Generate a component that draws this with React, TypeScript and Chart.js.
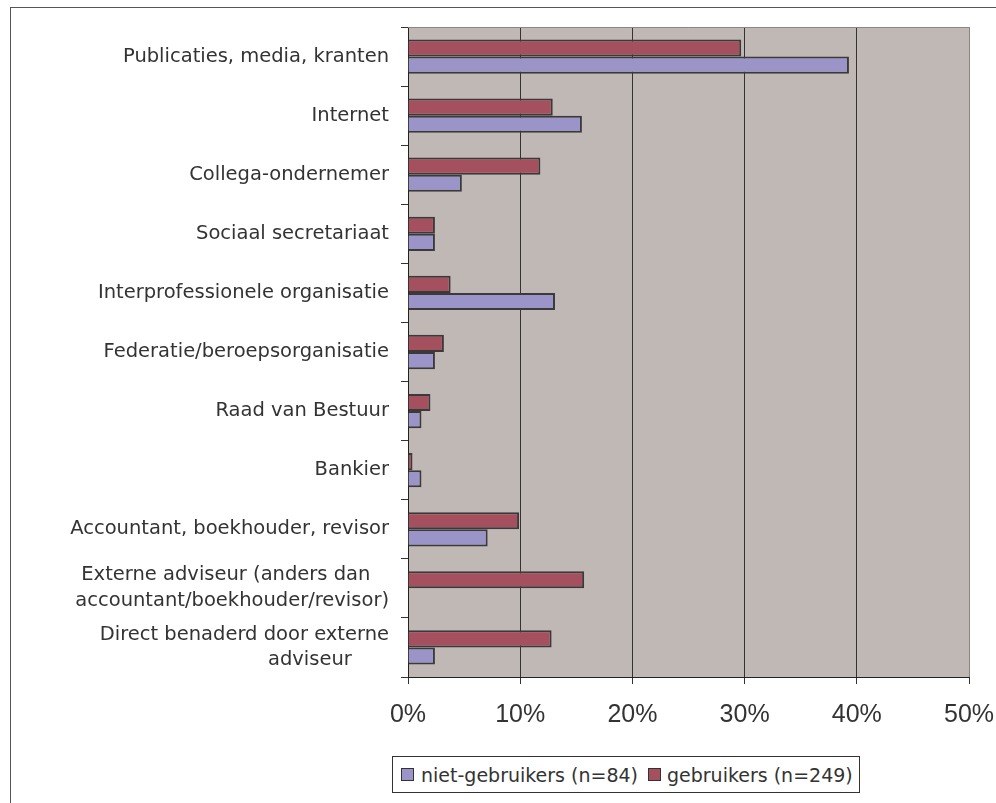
import React, { useEffect, useRef } from "react";
import { Chart, registerables } from "chart.js";

Chart.register(...registerables);

const categories: (string | string[])[] = [
  "Publicaties, media, kranten",
  "Internet",
  "Collega-ondernemer",
  "Sociaal secretariaat",
  "Interprofessionele organisatie",
  "Federatie/beroepsorganisatie",
  "Raad van Bestuur",
  "Bankier",
  "Accountant, boekhouder, revisor",
  ["Externe adviseur (anders dan   ", "accountant/boekhouder/revisor)"],
  ["Direct benaderd door externe", "adviseur      "],
];

const gebruikers = [29.7, 12.9, 11.8, 2.4, 3.8, 3.2, 2.0, 0.4, 9.9, 15.7, 12.8];
const nietGebruikers = [39.3, 15.5, 4.8, 2.4, 13.1, 2.4, 1.2, 1.2, 7.1, 0, 2.4];

const xTicks = [0, 10, 20, 30, 40, 50];

const RED = "#a5505f";
const BLUE = "#9b94c8";
const PLOT_BG = "#c0b8b5";
const LABEL_FONT = "'DejaVu Sans', sans-serif";

const zeroPad = (s: any) => {
  s.paddingLeft = 0;
  s.paddingRight = 0;
  s.paddingTop = 0;
  s.paddingBottom = 0;
};

export default function App() {
  const ref = useRef<HTMLCanvasElement | null>(null);

  useEffect(() => {
    if (!ref.current) return;
    const bgPlugin = {
      id: "plotBg",
      beforeDraw(chart: any) {
        const { ctx, chartArea } = chart;
        ctx.save();
        ctx.fillStyle = PLOT_BG;
        ctx.fillRect(chartArea.left, chartArea.top, chartArea.right - chartArea.left, chartArea.bottom - chartArea.top);
        ctx.restore();
      },
      afterDraw(chart: any) {
        const { ctx, chartArea } = chart;
        ctx.save();
        ctx.strokeStyle = "#8c8482";
        ctx.lineWidth = 1;
        ctx.beginPath();
        ctx.moveTo(chartArea.left, Math.round(chartArea.top) + 0.5);
        ctx.lineTo(Math.round(chartArea.right) + 0.5, Math.round(chartArea.top) + 0.5);
        ctx.lineTo(Math.round(chartArea.right) + 0.5, chartArea.bottom);
        ctx.stroke();
        ctx.restore();
      },
    };

    const chart = new Chart(ref.current, {
      type: "bar",
      data: {
        labels: categories,
        datasets: [
          {
            label: "gebruikers (n=249)",
            data: gebruikers,
            backgroundColor: RED,
            borderColor: "#3a3a3a",
            borderWidth: 2,
            categoryPercentage: 0.58,
            barPercentage: 1,
          },
          {
            label: "niet-gebruikers (n=84)",
            data: nietGebruikers,
            backgroundColor: BLUE,
            borderColor: "#3a3a3a",
            borderWidth: 2,
            categoryPercentage: 0.58,
            barPercentage: 1,
          },
        ],
      },
      options: {
        indexAxis: "y",
        responsive: false,
        animation: false,
        devicePixelRatio: 1,
        layout: { padding: { top: 27, right: 27, left: 0, bottom: 0 } },
        plugins: {
          legend: { display: false },
          tooltip: { enabled: false },
        },
        scales: {
          x: {
            type: "linear",
            min: 0,
            max: 50,
            afterFit: (s: any) => {
              s.height = 126;
              zeroPad(s);
            },
            afterBuildTicks: (s: any) => {
              s.ticks = xTicks.map((v) => ({ value: v }));
            },
            ticks: {
              stepSize: 10,
              padding: 16,
              color: "#333",
              font: { family: "'Liberation Sans', Arial, sans-serif", size: 25 },
              callback: (v: any) => v + "%",
            },
            grid: {
              color: (c: any) => (c.tick && c.tick.value === 50 ? "#8c8482" : "#333"),
              tickColor: "#333",
              tickLength: 7,
              lineWidth: 1,
            },
            border: { display: true, color: "#222", width: 1 },
          },
          y: {
            type: "category",
            afterFit: (s: any) => {
              s.width = 408;
              zeroPad(s);
            },
            ticks: {
              padding: 12,
              autoSkip: false,
              color: "#333",
              font: { family: LABEL_FONT, size: 19.5, lineHeight: 1.33 },
            },
            grid: {
              offset: true,
              drawOnChartArea: false,
              drawTicks: true,
              tickLength: 7,
              tickColor: "#333",
              color: "#333",
            },
            border: { display: true, color: "#222", width: 1 },
          },
        },
      },
      plugins: [bgPlugin],
    } as any);
    return () => chart.destroy();
  }, []);

  const swatch = (color: string): React.CSSProperties => ({
    width: 11,
    height: 11,
    background: color,
    border: "1px solid #333",
    display: "inline-block",
    flex: "0 0 auto",
  });

  return (
    <div style={{ position: "fixed", left: 0, top: 0, width: 996, height: 803, background: "#fff", overflow: "hidden" }}>
      <div
        style={{
          position: "absolute",
          left: 10,
          top: 7,
          width: 1000,
          height: 820,
          borderLeft: "1px solid #555",
          borderTop: "1px solid #555",
        }}
      />
      <canvas ref={ref} width={996} height={803} style={{ position: "absolute", left: 0, top: 0 }} />
      <div
        style={{
          position: "absolute",
          left: 392,
          top: 756,
          width: 466,
          height: 35,
          border: "1px solid #333",
          background: "#fff",
          display: "flex",
          alignItems: "center",
          fontFamily: LABEL_FONT,
          fontSize: 19,
          color: "#333",
          whiteSpace: "nowrap",
          boxSizing: "content-box",
        }}
      >
        <span style={{ ...swatch(BLUE), marginLeft: 8 }} />
        <span style={{ marginLeft: 7 }}>niet-gebruikers (n=84)</span>
        <span style={{ ...swatch(RED), marginLeft: 10 }} />
        <span style={{ marginLeft: 6 }}>gebruikers (n=249)</span>
      </div>
    </div>
  );
}
